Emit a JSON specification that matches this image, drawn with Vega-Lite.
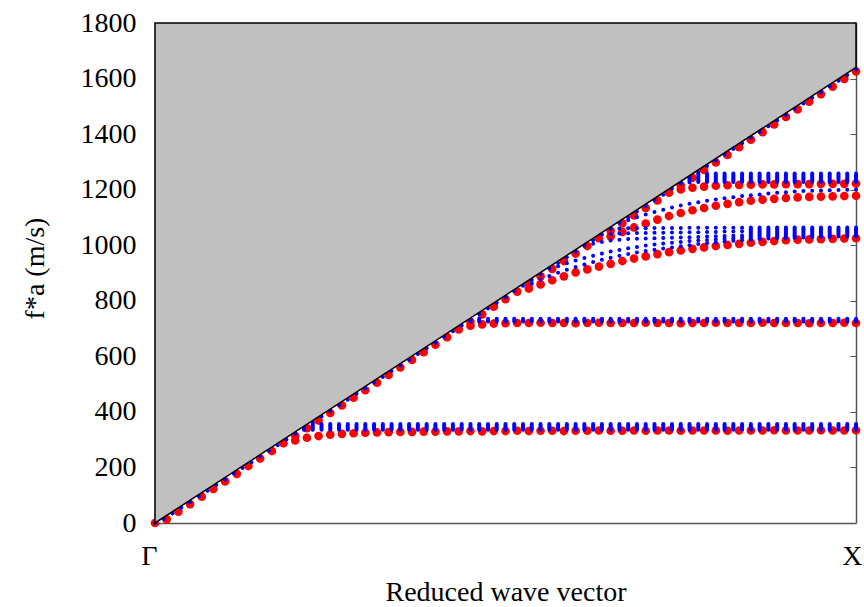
{
  "$schema": "https://vega.github.io/schema/vega-lite/v6.json",
  "width": 701,
  "height": 500,
  "autosize": {"type": "none"},
  "padding": {"left": 155, "top": 23, "right": 8, "bottom": 84},
  "background": "white",
  "config": {
    "view": {"stroke": null},
    "font": "Liberation Serif",
    "axis": {"grid": false, "labelFont": "Liberation Serif", "titleFont": "Liberation Serif", "labelFontSize": 28, "titleFontSize": 28, "titleFontWeight": "normal", "labelColor": "black", "titleColor": "black"},
    "axisY": {"labelFont": "Liberation Serif", "titleFont": "Liberation Serif"}
  },
  "datasets": {
    "cone": [{"k": 0, "f": 0}, {"k": 1, "f": 1640}],
    "red": [
      {"k": 0, "f": 0}, {"k": 0.0167, "f": 13}, {"k": 0.0333, "f": 41}, {"k": 0.05, "f": 68}, {"k": 0.0667, "f": 95}, {"k": 0.0833, "f": 123}, {"k": 0.1, "f": 150}, {"k": 0.1167, "f": 177}, {"k": 0.1333, "f": 205}, {"k": 0.15, "f": 232}, {"k": 0.1667, "f": 259}, {"k": 0.1833, "f": 287}, {"k": 0.2, "f": 314}, {"k": 0.2167, "f": 341}, {"k": 0.2333, "f": 369}, {"k": 0.25, "f": 396}, {"k": 0.2667, "f": 423}, {"k": 0.2833, "f": 451}, {"k": 0.3, "f": 478}, {"k": 0.3167, "f": 505}, {"k": 0.3333, "f": 533}, {"k": 0.35, "f": 560}, {"k": 0.3667, "f": 587}, {"k": 0.3833, "f": 615}, {"k": 0.4, "f": 642}, {"k": 0.4167, "f": 669}, {"k": 0.4333, "f": 697}, {"k": 0.45, "f": 724}, {"k": 0.4667, "f": 751}, {"k": 0.4833, "f": 779}, {"k": 0.5, "f": 806}, {"k": 0.5167, "f": 833}, {"k": 0.5333, "f": 861}, {"k": 0.55, "f": 888}, {"k": 0.5667, "f": 915}, {"k": 0.5833, "f": 943}, {"k": 0.6, "f": 970}, {"k": 0.6167, "f": 997}, {"k": 0.6333, "f": 1025}, {"k": 0.65, "f": 1052}, {"k": 0.6667, "f": 1079}, {"k": 0.6833, "f": 1107}, {"k": 0.7, "f": 1134}, {"k": 0.7167, "f": 1161}, {"k": 0.7333, "f": 1189}, {"k": 0.75, "f": 1216}, {"k": 0.7667, "f": 1243}, {"k": 0.7833, "f": 1271}, {"k": 0.8, "f": 1298}, {"k": 0.8167, "f": 1325}, {"k": 0.8333, "f": 1353}, {"k": 0.85, "f": 1380}, {"k": 0.8667, "f": 1407}, {"k": 0.8833, "f": 1435}, {"k": 0.9, "f": 1462}, {"k": 0.9167, "f": 1489}, {"k": 0.9333, "f": 1517}, {"k": 0.95, "f": 1544}, {"k": 0.9667, "f": 1571}, {"k": 0.9833, "f": 1599}, {"k": 1, "f": 1626},
      {"k": 0.2, "f": 297}, {"k": 0.2167, "f": 307}, {"k": 0.2333, "f": 313}, {"k": 0.25, "f": 318}, {"k": 0.2667, "f": 321}, {"k": 0.2833, "f": 323}, {"k": 0.3, "f": 325}, {"k": 0.3167, "f": 326}, {"k": 0.3333, "f": 327}, {"k": 0.35, "f": 328}, {"k": 0.3667, "f": 328}, {"k": 0.3833, "f": 329}, {"k": 0.4, "f": 329}, {"k": 0.4167, "f": 330}, {"k": 0.4333, "f": 330}, {"k": 0.45, "f": 331}, {"k": 0.4667, "f": 330}, {"k": 0.4833, "f": 331}, {"k": 0.5, "f": 331}, {"k": 0.5167, "f": 332}, {"k": 0.5333, "f": 331}, {"k": 0.55, "f": 332}, {"k": 0.5667, "f": 332}, {"k": 0.5833, "f": 331}, {"k": 0.6, "f": 332}, {"k": 0.6167, "f": 332}, {"k": 0.6333, "f": 333}, {"k": 0.65, "f": 332}, {"k": 0.6667, "f": 332}, {"k": 0.6833, "f": 333}, {"k": 0.7, "f": 332}, {"k": 0.7167, "f": 333}, {"k": 0.7333, "f": 333}, {"k": 0.75, "f": 332}, {"k": 0.7667, "f": 333}, {"k": 0.7833, "f": 333}, {"k": 0.8, "f": 333}, {"k": 0.8167, "f": 332}, {"k": 0.8333, "f": 333}, {"k": 0.85, "f": 333}, {"k": 0.8667, "f": 333}, {"k": 0.8833, "f": 334}, {"k": 0.9, "f": 333}, {"k": 0.9167, "f": 333}, {"k": 0.9333, "f": 333}, {"k": 0.95, "f": 334}, {"k": 0.9667, "f": 333}, {"k": 0.9833, "f": 333}, {"k": 1, "f": 334},
      {"k": 0.45, "f": 710}, {"k": 0.4667, "f": 715}, {"k": 0.4833, "f": 718}, {"k": 0.5, "f": 719}, {"k": 0.5167, "f": 720}, {"k": 0.5333, "f": 720}, {"k": 0.55, "f": 721}, {"k": 0.5667, "f": 720}, {"k": 0.5833, "f": 720}, {"k": 0.6, "f": 719}, {"k": 0.6167, "f": 720}, {"k": 0.6333, "f": 721}, {"k": 0.65, "f": 720}, {"k": 0.6667, "f": 720}, {"k": 0.6833, "f": 720}, {"k": 0.7, "f": 721}, {"k": 0.7167, "f": 720}, {"k": 0.7333, "f": 720}, {"k": 0.75, "f": 719}, {"k": 0.7667, "f": 720}, {"k": 0.7833, "f": 720}, {"k": 0.8, "f": 721}, {"k": 0.8167, "f": 720}, {"k": 0.8333, "f": 720}, {"k": 0.85, "f": 720}, {"k": 0.8667, "f": 721}, {"k": 0.8833, "f": 720}, {"k": 0.9, "f": 720}, {"k": 0.9167, "f": 720}, {"k": 0.9333, "f": 719}, {"k": 0.95, "f": 720}, {"k": 0.9667, "f": 720}, {"k": 0.9833, "f": 721}, {"k": 1, "f": 720},
      {"k": 0.5333, "f": 844}, {"k": 0.55, "f": 859}, {"k": 0.5667, "f": 874}, {"k": 0.5833, "f": 888}, {"k": 0.6, "f": 902}, {"k": 0.6167, "f": 913}, {"k": 0.6333, "f": 923}, {"k": 0.65, "f": 933}, {"k": 0.6667, "f": 943}, {"k": 0.6833, "f": 952}, {"k": 0.7, "f": 960}, {"k": 0.7167, "f": 968}, {"k": 0.7333, "f": 975}, {"k": 0.75, "f": 981}, {"k": 0.7667, "f": 987}, {"k": 0.7833, "f": 992}, {"k": 0.8, "f": 997}, {"k": 0.8167, "f": 1001}, {"k": 0.8333, "f": 1005}, {"k": 0.85, "f": 1009}, {"k": 0.8667, "f": 1012}, {"k": 0.8833, "f": 1015}, {"k": 0.9, "f": 1018}, {"k": 0.9167, "f": 1020}, {"k": 0.9333, "f": 1021}, {"k": 0.95, "f": 1022}, {"k": 0.9667, "f": 1023}, {"k": 0.9833, "f": 1024}, {"k": 1, "f": 1025},
      {"k": 0.65, "f": 1032}, {"k": 0.6667, "f": 1048}, {"k": 0.6833, "f": 1064}, {"k": 0.7, "f": 1078}, {"k": 0.7167, "f": 1092}, {"k": 0.7333, "f": 1105}, {"k": 0.75, "f": 1116}, {"k": 0.7667, "f": 1126}, {"k": 0.7833, "f": 1134}, {"k": 0.8, "f": 1142}, {"k": 0.8167, "f": 1149}, {"k": 0.8333, "f": 1155}, {"k": 0.85, "f": 1160}, {"k": 0.8667, "f": 1164}, {"k": 0.8833, "f": 1167}, {"k": 0.9, "f": 1170}, {"k": 0.9167, "f": 1172}, {"k": 0.9333, "f": 1174}, {"k": 0.95, "f": 1175}, {"k": 0.9667, "f": 1176}, {"k": 0.9833, "f": 1177}, {"k": 1, "f": 1178},
      {"k": 0.75, "f": 1201}, {"k": 0.7667, "f": 1207}, {"k": 0.7833, "f": 1211}, {"k": 0.8, "f": 1214}, {"k": 0.8167, "f": 1216}, {"k": 0.8333, "f": 1217}, {"k": 0.85, "f": 1218}, {"k": 0.8667, "f": 1219}, {"k": 0.8833, "f": 1219}, {"k": 0.9, "f": 1220}, {"k": 0.9167, "f": 1220}, {"k": 0.9333, "f": 1220}, {"k": 0.95, "f": 1221}, {"k": 0.9667, "f": 1221}, {"k": 0.9833, "f": 1221}, {"k": 1, "f": 1222}
    ],
    "bdots": [
      {"k": 0, "f": 0}, {"k": 0.0125, "f": 14}, {"k": 0.025, "f": 34}, {"k": 0.0375, "f": 55}, {"k": 0.05, "f": 75}, {"k": 0.0625, "f": 96}, {"k": 0.075, "f": 116}, {"k": 0.0875, "f": 137}, {"k": 0.1, "f": 157}, {"k": 0.1125, "f": 178}, {"k": 0.125, "f": 198}, {"k": 0.1375, "f": 219}, {"k": 0.15, "f": 239}, {"k": 0.1625, "f": 260}, {"k": 0.175, "f": 280}, {"k": 0.1875, "f": 301}, {"k": 0.2, "f": 321}, {"k": 0.2125, "f": 342}, {"k": 0.225, "f": 362}, {"k": 0.2375, "f": 383}, {"k": 0.25, "f": 403}, {"k": 0.2625, "f": 424}, {"k": 0.275, "f": 444}, {"k": 0.2875, "f": 465}, {"k": 0.3, "f": 485}, {"k": 0.3125, "f": 506}, {"k": 0.325, "f": 526}, {"k": 0.3375, "f": 547}, {"k": 0.35, "f": 567}, {"k": 0.3625, "f": 588}, {"k": 0.375, "f": 608}, {"k": 0.3875, "f": 629}, {"k": 0.4, "f": 649}, {"k": 0.4125, "f": 670}, {"k": 0.425, "f": 690}, {"k": 0.4375, "f": 711}, {"k": 0.45, "f": 731}, {"k": 0.4625, "f": 752}, {"k": 0.475, "f": 772}, {"k": 0.4875, "f": 793}, {"k": 0.5, "f": 813}, {"k": 0.5125, "f": 834}, {"k": 0.525, "f": 854}, {"k": 0.5375, "f": 875}, {"k": 0.55, "f": 895}, {"k": 0.5625, "f": 916}, {"k": 0.575, "f": 936}, {"k": 0.5875, "f": 957}, {"k": 0.6, "f": 977}, {"k": 0.6125, "f": 998}, {"k": 0.625, "f": 1018}, {"k": 0.6375, "f": 1039}, {"k": 0.65, "f": 1059}, {"k": 0.6625, "f": 1080}, {"k": 0.675, "f": 1100}, {"k": 0.6875, "f": 1121}, {"k": 0.7, "f": 1141}, {"k": 0.7125, "f": 1162}, {"k": 0.725, "f": 1182}, {"k": 0.7375, "f": 1203}, {"k": 0.75, "f": 1223}, {"k": 0.7625, "f": 1244}, {"k": 0.775, "f": 1264}, {"k": 0.7875, "f": 1285}, {"k": 0.8, "f": 1305}, {"k": 0.8125, "f": 1326}, {"k": 0.825, "f": 1346}, {"k": 0.8375, "f": 1367}, {"k": 0.85, "f": 1387}, {"k": 0.8625, "f": 1408}, {"k": 0.875, "f": 1428}, {"k": 0.8875, "f": 1449}, {"k": 0.9, "f": 1469}, {"k": 0.9125, "f": 1490}, {"k": 0.925, "f": 1510}, {"k": 0.9375, "f": 1531}, {"k": 0.95, "f": 1551}, {"k": 0.9625, "f": 1572}, {"k": 0.975, "f": 1592}, {"k": 0.9875, "f": 1613}, {"k": 1, "f": 1633},
      {"k": 0.5375, "f": 862}, {"k": 0.55, "f": 876}, {"k": 0.5625, "f": 889}, {"k": 0.575, "f": 901}, {"k": 0.5875, "f": 912}, {"k": 0.6, "f": 922}, {"k": 0.6125, "f": 931}, {"k": 0.625, "f": 940}, {"k": 0.6375, "f": 948}, {"k": 0.65, "f": 955}, {"k": 0.6625, "f": 962}, {"k": 0.675, "f": 968}, {"k": 0.6875, "f": 974}, {"k": 0.7, "f": 979}, {"k": 0.7125, "f": 984}, {"k": 0.725, "f": 988}, {"k": 0.7375, "f": 992}, {"k": 0.75, "f": 996}, {"k": 0.7625, "f": 1000}, {"k": 0.775, "f": 1004}, {"k": 0.7875, "f": 1007}, {"k": 0.8, "f": 1010}, {"k": 0.8125, "f": 1013}, {"k": 0.825, "f": 1016}, {"k": 0.8375, "f": 1018},
      {"k": 0.575, "f": 924}, {"k": 0.5875, "f": 935}, {"k": 0.6, "f": 945}, {"k": 0.6125, "f": 954}, {"k": 0.625, "f": 962}, {"k": 0.6375, "f": 970}, {"k": 0.65, "f": 977}, {"k": 0.6625, "f": 983}, {"k": 0.675, "f": 989}, {"k": 0.6875, "f": 994}, {"k": 0.7, "f": 999}, {"k": 0.7125, "f": 1003}, {"k": 0.725, "f": 1006}, {"k": 0.7375, "f": 1009}, {"k": 0.75, "f": 1012}, {"k": 0.7625, "f": 1015}, {"k": 0.775, "f": 1017}, {"k": 0.7875, "f": 1019}, {"k": 0.8, "f": 1021}, {"k": 0.8125, "f": 1023}, {"k": 0.825, "f": 1025}, {"k": 0.8375, "f": 1027},
      {"k": 0.625, "f": 1005}, {"k": 0.6375, "f": 1012}, {"k": 0.65, "f": 1017}, {"k": 0.6625, "f": 1020}, {"k": 0.675, "f": 1022}, {"k": 0.6875, "f": 1023}, {"k": 0.7, "f": 1024}, {"k": 0.7125, "f": 1025}, {"k": 0.725, "f": 1026}, {"k": 0.7375, "f": 1027}, {"k": 0.75, "f": 1028}, {"k": 0.7625, "f": 1029}, {"k": 0.775, "f": 1030}, {"k": 0.7875, "f": 1031}, {"k": 0.8, "f": 1032}, {"k": 0.8125, "f": 1033}, {"k": 0.825, "f": 1034}, {"k": 0.8375, "f": 1035},
      {"k": 0.65, "f": 1040}, {"k": 0.6625, "f": 1042}, {"k": 0.675, "f": 1043}, {"k": 0.6875, "f": 1044}, {"k": 0.7, "f": 1044}, {"k": 0.7125, "f": 1045}, {"k": 0.725, "f": 1045}, {"k": 0.7375, "f": 1046}, {"k": 0.75, "f": 1046}, {"k": 0.7625, "f": 1047}, {"k": 0.775, "f": 1047}, {"k": 0.7875, "f": 1048}, {"k": 0.8, "f": 1048}, {"k": 0.8125, "f": 1049}, {"k": 0.825, "f": 1049}, {"k": 0.8375, "f": 1050},
      {"k": 0.6625, "f": 1060}, {"k": 0.675, "f": 1061}, {"k": 0.6875, "f": 1061}, {"k": 0.7, "f": 1061}, {"k": 0.7125, "f": 1062}, {"k": 0.725, "f": 1062}, {"k": 0.7375, "f": 1062}, {"k": 0.75, "f": 1062}, {"k": 0.7625, "f": 1063}, {"k": 0.775, "f": 1063}, {"k": 0.7875, "f": 1063}, {"k": 0.8, "f": 1063}, {"k": 0.8125, "f": 1063}, {"k": 0.825, "f": 1063}, {"k": 0.8375, "f": 1063},
      {"k": 0.675, "f": 1090}, {"k": 0.6875, "f": 1101}, {"k": 0.7, "f": 1111}, {"k": 0.7125, "f": 1120}, {"k": 0.725, "f": 1128}, {"k": 0.7375, "f": 1136}, {"k": 0.75, "f": 1143}, {"k": 0.7625, "f": 1149}, {"k": 0.775, "f": 1155}, {"k": 0.7875, "f": 1160}, {"k": 0.8, "f": 1165}, {"k": 0.8125, "f": 1169}, {"k": 0.825, "f": 1173}, {"k": 0.8375, "f": 1177}, {"k": 0.85, "f": 1180}, {"k": 0.8625, "f": 1183}, {"k": 0.875, "f": 1186}, {"k": 0.8875, "f": 1189}, {"k": 0.9, "f": 1191}, {"k": 0.9125, "f": 1193}, {"k": 0.925, "f": 1195}, {"k": 0.9375, "f": 1196}, {"k": 0.95, "f": 1197}, {"k": 0.9625, "f": 1198}, {"k": 0.975, "f": 1199}, {"k": 0.9875, "f": 1200}, {"k": 1, "f": 1201}
    ],
    "bbars": [
      {"k": 0.2125, "lo": 336, "hi": 352}, {"k": 0.225, "lo": 336, "hi": 356}, {"k": 0.2375, "lo": 336, "hi": 356}, {"k": 0.25, "lo": 336, "hi": 356}, {"k": 0.2625, "lo": 336, "hi": 356}, {"k": 0.275, "lo": 336, "hi": 356}, {"k": 0.2875, "lo": 336, "hi": 356}, {"k": 0.3, "lo": 336, "hi": 356}, {"k": 0.3125, "lo": 336, "hi": 356}, {"k": 0.325, "lo": 336, "hi": 356}, {"k": 0.3375, "lo": 336, "hi": 356}, {"k": 0.35, "lo": 336, "hi": 356}, {"k": 0.3625, "lo": 336, "hi": 356}, {"k": 0.375, "lo": 336, "hi": 356}, {"k": 0.3875, "lo": 336, "hi": 356}, {"k": 0.4, "lo": 336, "hi": 356}, {"k": 0.4125, "lo": 336, "hi": 356}, {"k": 0.425, "lo": 336, "hi": 356}, {"k": 0.4375, "lo": 336, "hi": 356}, {"k": 0.45, "lo": 336, "hi": 356}, {"k": 0.4625, "lo": 336, "hi": 356}, {"k": 0.475, "lo": 336, "hi": 356}, {"k": 0.4875, "lo": 336, "hi": 356}, {"k": 0.5, "lo": 336, "hi": 356}, {"k": 0.5125, "lo": 336, "hi": 356}, {"k": 0.525, "lo": 336, "hi": 356}, {"k": 0.5375, "lo": 336, "hi": 356}, {"k": 0.55, "lo": 336, "hi": 356}, {"k": 0.5625, "lo": 336, "hi": 356}, {"k": 0.575, "lo": 336, "hi": 356}, {"k": 0.5875, "lo": 336, "hi": 356}, {"k": 0.6, "lo": 336, "hi": 356}, {"k": 0.6125, "lo": 336, "hi": 356}, {"k": 0.625, "lo": 336, "hi": 356}, {"k": 0.6375, "lo": 336, "hi": 356}, {"k": 0.65, "lo": 336, "hi": 356}, {"k": 0.6625, "lo": 336, "hi": 356}, {"k": 0.675, "lo": 336, "hi": 356}, {"k": 0.6875, "lo": 336, "hi": 356}, {"k": 0.7, "lo": 336, "hi": 356}, {"k": 0.7125, "lo": 336, "hi": 356}, {"k": 0.725, "lo": 336, "hi": 356}, {"k": 0.7375, "lo": 336, "hi": 356}, {"k": 0.75, "lo": 336, "hi": 356}, {"k": 0.7625, "lo": 336, "hi": 356}, {"k": 0.775, "lo": 336, "hi": 356}, {"k": 0.7875, "lo": 336, "hi": 356}, {"k": 0.8, "lo": 336, "hi": 356}, {"k": 0.8125, "lo": 336, "hi": 356}, {"k": 0.825, "lo": 336, "hi": 356}, {"k": 0.8375, "lo": 336, "hi": 356}, {"k": 0.85, "lo": 336, "hi": 356}, {"k": 0.8625, "lo": 336, "hi": 356}, {"k": 0.875, "lo": 336, "hi": 356}, {"k": 0.8875, "lo": 336, "hi": 356}, {"k": 0.9, "lo": 336, "hi": 356}, {"k": 0.9125, "lo": 336, "hi": 356}, {"k": 0.925, "lo": 336, "hi": 356}, {"k": 0.9375, "lo": 336, "hi": 356}, {"k": 0.95, "lo": 336, "hi": 356}, {"k": 0.9625, "lo": 336, "hi": 356}, {"k": 0.975, "lo": 336, "hi": 356}, {"k": 0.9875, "lo": 336, "hi": 356}, {"k": 1, "lo": 336, "hi": 356},
      {"k": 0.45, "lo": 725, "hi": 735}, {"k": 0.4625, "lo": 725, "hi": 735}, {"k": 0.475, "lo": 725, "hi": 735}, {"k": 0.4875, "lo": 725, "hi": 735}, {"k": 0.5, "lo": 725, "hi": 735}, {"k": 0.5125, "lo": 725, "hi": 735}, {"k": 0.525, "lo": 725, "hi": 735}, {"k": 0.5375, "lo": 725, "hi": 735}, {"k": 0.55, "lo": 725, "hi": 735}, {"k": 0.5625, "lo": 725, "hi": 735}, {"k": 0.575, "lo": 725, "hi": 735}, {"k": 0.5875, "lo": 725, "hi": 735}, {"k": 0.6, "lo": 725, "hi": 735}, {"k": 0.6125, "lo": 725, "hi": 735}, {"k": 0.625, "lo": 725, "hi": 735}, {"k": 0.6375, "lo": 725, "hi": 735}, {"k": 0.65, "lo": 725, "hi": 735}, {"k": 0.6625, "lo": 725, "hi": 735}, {"k": 0.675, "lo": 725, "hi": 735}, {"k": 0.6875, "lo": 725, "hi": 735}, {"k": 0.7, "lo": 725, "hi": 735}, {"k": 0.7125, "lo": 725, "hi": 735}, {"k": 0.725, "lo": 725, "hi": 735}, {"k": 0.7375, "lo": 725, "hi": 735}, {"k": 0.75, "lo": 725, "hi": 735}, {"k": 0.7625, "lo": 725, "hi": 735}, {"k": 0.775, "lo": 725, "hi": 735}, {"k": 0.7875, "lo": 725, "hi": 735}, {"k": 0.8, "lo": 725, "hi": 735}, {"k": 0.8125, "lo": 725, "hi": 735}, {"k": 0.825, "lo": 725, "hi": 735}, {"k": 0.8375, "lo": 725, "hi": 735}, {"k": 0.85, "lo": 725, "hi": 735}, {"k": 0.8625, "lo": 725, "hi": 735}, {"k": 0.875, "lo": 725, "hi": 735}, {"k": 0.8875, "lo": 725, "hi": 735}, {"k": 0.9, "lo": 725, "hi": 735}, {"k": 0.9125, "lo": 725, "hi": 735}, {"k": 0.925, "lo": 725, "hi": 735}, {"k": 0.9375, "lo": 725, "hi": 735}, {"k": 0.95, "lo": 725, "hi": 735}, {"k": 0.9625, "lo": 725, "hi": 735}, {"k": 0.975, "lo": 725, "hi": 735}, {"k": 0.9875, "lo": 725, "hi": 735}, {"k": 1, "lo": 725, "hi": 735},
      {"k": 0.85, "lo": 1020, "hi": 1064}, {"k": 0.8625, "lo": 1022, "hi": 1064}, {"k": 0.875, "lo": 1024, "hi": 1064}, {"k": 0.8875, "lo": 1025, "hi": 1064}, {"k": 0.9, "lo": 1026, "hi": 1064}, {"k": 0.9125, "lo": 1027, "hi": 1064}, {"k": 0.925, "lo": 1028, "hi": 1064}, {"k": 0.9375, "lo": 1029, "hi": 1064}, {"k": 0.95, "lo": 1030, "hi": 1064}, {"k": 0.9625, "lo": 1030, "hi": 1064}, {"k": 0.975, "lo": 1031, "hi": 1064}, {"k": 0.9875, "lo": 1031, "hi": 1064}, {"k": 1, "lo": 1032, "hi": 1064},
      {"k": 0.75, "lo": 1224, "hi": 1226}, {"k": 0.7625, "lo": 1226, "hi": 1242}, {"k": 0.775, "lo": 1228, "hi": 1258}, {"k": 0.7875, "lo": 1228, "hi": 1258}, {"k": 0.8, "lo": 1228, "hi": 1258}, {"k": 0.8125, "lo": 1228, "hi": 1258}, {"k": 0.825, "lo": 1228, "hi": 1258}, {"k": 0.8375, "lo": 1228, "hi": 1258}, {"k": 0.85, "lo": 1228, "hi": 1258}, {"k": 0.8625, "lo": 1228, "hi": 1258}, {"k": 0.875, "lo": 1228, "hi": 1258}, {"k": 0.8875, "lo": 1228, "hi": 1258}, {"k": 0.9, "lo": 1228, "hi": 1258}, {"k": 0.9125, "lo": 1228, "hi": 1258}, {"k": 0.925, "lo": 1228, "hi": 1258}, {"k": 0.9375, "lo": 1228, "hi": 1258}, {"k": 0.95, "lo": 1228, "hi": 1258}, {"k": 0.9625, "lo": 1228, "hi": 1258}, {"k": 0.975, "lo": 1228, "hi": 1258}, {"k": 0.9875, "lo": 1228, "hi": 1258}, {"k": 1, "lo": 1228, "hi": 1258}
    ]
  },
  "layer": [
    {
      "data": {"name": "red"},
      "mark": {"type": "circle", "size": 75, "color": "#FF0000", "opacity": 1},
      "encoding": {
        "x": {"field": "k", "type": "quantitative", "scale": {"domain": [0, 1], "nice": false},
          "axis": {"values": [0, 1], "labelExpr": "datum.value == 0 ? 'Γ' : 'X'", "labelFlush": false, "ticks": false, "domainColor": "#555", "domainWidth": 1.5,
            "labelFont": "Liberation Serif", "labelFontSize": 28, "labelColor": "black", "labelPadding": 19,
            "labelAlign": "right",
            "labelOffset": {"condition": {"test": "datum.value == 0", "value": 2}, "value": 6},
            "title": "Reduced wave vector", "titleFont": "Liberation Serif", "titleFontSize": 28, "titleFontWeight": "normal", "titleColor": "black", "titlePadding": 8}},
        "y": {"field": "f", "type": "quantitative", "scale": {"domain": [0, 1800], "nice": false},
          "axis": {"orient": "left", "values": [0, 200, 400, 600, 800, 1000, 1200, 1400, 1600, 1800], "format": "d", "ticks": false, "domainColor": "#555", "domainWidth": 1.5,
            "labelFont": "Liberation Serif", "labelFontSize": 28, "labelColor": "black", "labelPadding": 19,
            "title": "f*a (m/s)", "titleFont": "Liberation Serif", "titleFontSize": 28, "titleFontWeight": "normal", "titleColor": "black",
            "titleX": -120, "titleY": 245, "titleAngle": -90, "titleAlign": "center", "titleBaseline": "middle"}}
      }
    },
    {
      "data": {"name": "bbars"},
      "mark": {"type": "rule", "color": "#0000FF", "strokeWidth": 4, "strokeCap": "round"},
      "encoding": {
        "x": {"field": "k", "type": "quantitative"},
        "y": {"field": "lo", "type": "quantitative", "axis": {"orient": "right", "values": [200, 400, 600, 800, 1000, 1200, 1400, 1600], "labels": false, "title": null, "tickSize": -6, "tickColor": "#555", "domainColor": "#555", "domainWidth": 1.5}},
        "y2": {"field": "hi"}
      }
    },
    {
      "data": {"name": "bdots"},
      "mark": {"type": "circle", "size": 16, "color": "#0000FF", "opacity": 1},
      "encoding": {
        "x": {"field": "k", "type": "quantitative"},
        "y": {"field": "f", "type": "quantitative", "axis": null}
      }
    },
    {
      "data": {"name": "cone"},
      "mark": {"type": "area", "fill": "#C0C0C0", "stroke": "black", "strokeWidth": 1.5, "opacity": 1},
      "encoding": {
        "x": {"field": "k", "type": "quantitative"},
        "y": {"field": "f", "type": "quantitative", "axis": null},
        "y2": {"datum": 1800}
      }
    }
  ],
  "resolve": {"axis": {"y": "independent"}}
}
